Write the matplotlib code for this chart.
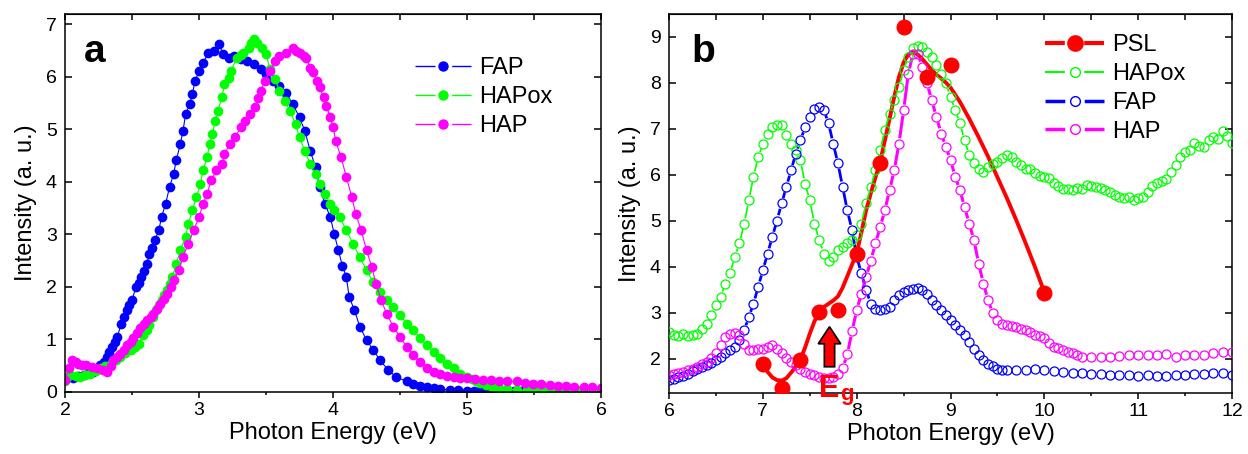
import numpy as np
import matplotlib
matplotlib.use('Agg')
import matplotlib.pyplot as plt
from matplotlib.collections import LineCollection
from matplotlib.lines import Line2D
from matplotlib.patches import FancyArrow
from matplotlib.ticker import MultipleLocator

plt.rcParams['font.family'] = ['Liberation Sans', 'DejaVu Sans']
plt.rcParams['lines.scale_dashes'] = False

# ---- panel a: (energy eV, intensity) ----
fap_a = [(2.00, 0.25), (2.03, 0.28), (2.06, 0.26), (2.10, 0.30), (2.14, 0.32), (2.18, 0.36), (2.21, 0.39),
         (2.24, 0.45), (2.26, 0.51), (2.29, 0.58), (2.31, 0.67), (2.33, 0.76), (2.35, 0.86), (2.37, 0.95),
         (2.39, 1.05), (2.42, 1.30), (2.44, 1.42), (2.46, 1.56), (2.48, 1.65), (2.50, 1.75), (2.53, 2.00),
         (2.55, 2.08), (2.57, 2.19), (2.59, 2.30), (2.61, 2.44), (2.63, 2.63), (2.65, 2.75), (2.67, 2.89),
         (2.70, 3.08), (2.72, 3.33), (2.75, 3.58), (2.78, 3.90), (2.81, 4.15), (2.83, 4.41), (2.86, 4.72),
         (2.88, 4.97), (2.90, 5.29), (2.93, 5.48), (2.95, 5.67), (2.97, 5.92), (3.00, 6.11), (3.03, 6.27),
         (3.07, 6.46), (3.11, 6.49), (3.15, 6.62), (3.18, 6.43), (3.22, 6.37), (3.26, 6.40), (3.31, 6.34),
         (3.36, 6.30), (3.41, 6.24), (3.46, 6.15), (3.50, 6.05), (3.55, 5.92), (3.60, 5.83), (3.65, 5.70),
         (3.70, 5.48), (3.75, 5.23), (3.79, 4.97), (3.83, 4.59), (3.87, 4.28), (3.90, 3.90), (3.94, 3.58),
         (3.98, 3.33), (4.01, 3.00), (4.04, 2.70), (4.07, 2.40), (4.10, 2.19), (4.12, 1.81), (4.16, 1.56),
         (4.20, 1.24), (4.25, 0.99), (4.30, 0.80), (4.35, 0.61), (4.41, 0.42), (4.47, 0.29), (4.55, 0.20),
         (4.60, 0.15), (4.65, 0.11), (4.70, 0.09), (4.75, 0.07), (4.80, 0.05), (4.87, 0.04), (4.93, 0.03),
         (5.00, 0.02), (5.05, 0.02), (5.10, 0.02), (5.15, 0.01), (5.20, 0.01), (5.25, 0.01), (5.30, 0.01),
         (5.35, 0.01), (5.40, 0.01), (5.45, 0.01), (5.50, 0.01), (5.55, 0.01), (5.60, 0.01), (5.65, 0.01),
         (5.70, 0.01), (5.75, 0.01), (5.80, 0.01), (5.85, 0.01), (5.90, 0.01), (5.95, 0.01), (6.00, 0.01)]

hapox_a = [(2.00, 0.20), (2.02, 0.30), (2.04, 0.32), (2.08, 0.30), (2.11, 0.29), (2.15, 0.33), (2.19, 0.35),
           (2.23, 0.40), (2.26, 0.45), (2.30, 0.50), (2.34, 0.54), (2.38, 0.60), (2.41, 0.67), (2.45, 0.74),
           (2.49, 0.80), (2.52, 0.86), (2.55, 0.92), (2.58, 1.08), (2.61, 1.18), (2.63, 1.27), (2.66, 1.42),
           (2.68, 1.56), (2.70, 1.65), (2.72, 1.75), (2.74, 1.85), (2.76, 1.94), (2.78, 2.06), (2.80, 2.19),
           (2.83, 2.44), (2.86, 2.70), (2.90, 2.95), (2.92, 3.20), (2.95, 3.46), (2.98, 3.71), (3.01, 3.96),
           (3.03, 4.22), (3.06, 4.47), (3.08, 4.72), (3.10, 4.91), (3.12, 5.16), (3.14, 5.35), (3.17, 5.61),
           (3.19, 5.86), (3.22, 5.99), (3.24, 6.11), (3.28, 6.37), (3.31, 6.42), (3.33, 6.46), (3.37, 6.56),
           (3.39, 6.65), (3.41, 6.72), (3.43, 6.65), (3.47, 6.56), (3.50, 6.43), (3.53, 6.15), (3.57, 5.96),
           (3.60, 5.73), (3.64, 5.54), (3.68, 5.35), (3.72, 5.10), (3.75, 4.85), (3.79, 4.59), (3.83, 4.34),
           (3.87, 4.15), (3.90, 3.96), (3.94, 3.77), (3.98, 3.58), (4.01, 3.46), (4.05, 3.33), (4.10, 3.08),
           (4.15, 2.82), (4.20, 2.57), (4.25, 2.32), (4.30, 2.09), (4.35, 1.90), (4.40, 1.75), (4.45, 1.62),
           (4.50, 1.46), (4.55, 1.30), (4.60, 1.18), (4.65, 1.02), (4.70, 0.89), (4.75, 0.77), (4.80, 0.64),
           (4.85, 0.54), (4.90, 0.45), (4.95, 0.35), (5.00, 0.29), (5.04, 0.24), (5.07, 0.20), (5.10, 0.17),
           (5.14, 0.13), (5.19, 0.10), (5.24, 0.07), (5.30, 0.05), (5.37, 0.04), (5.45, 0.03), (5.50, 0.03),
           (5.55, 0.03), (5.60, 0.03), (5.65, 0.02), (5.70, 0.02), (5.75, 0.02), (5.80, 0.02), (5.85, 0.02),
           (5.90, 0.02), (5.95, 0.02), (6.00, 0.02)]

hap_a = [(2.00, 0.23), (2.03, 0.45), (2.05, 0.61), (2.08, 0.57), (2.10, 0.54), (2.13, 0.52), (2.16, 0.51),
         (2.20, 0.48), (2.24, 0.45), (2.28, 0.42), (2.31, 0.39), (2.34, 0.50), (2.36, 0.61), (2.39, 0.67),
         (2.41, 0.73), (2.44, 0.80), (2.46, 0.89), (2.49, 0.96), (2.51, 1.02), (2.54, 1.12), (2.56, 1.21),
         (2.59, 1.30), (2.61, 1.37), (2.64, 1.43), (2.66, 1.49), (2.69, 1.58), (2.71, 1.68), (2.74, 1.78),
         (2.76, 1.87), (2.79, 2.00), (2.81, 2.13), (2.85, 2.32), (2.88, 2.57), (2.92, 2.82), (2.96, 3.08),
         (3.00, 3.33), (3.03, 3.58), (3.06, 3.77), (3.09, 4.03), (3.13, 4.22), (3.17, 4.34), (3.19, 4.53),
         (3.23, 4.72), (3.27, 4.85), (3.31, 5.04), (3.34, 5.16), (3.38, 5.29), (3.42, 5.42), (3.44, 5.60),
         (3.46, 5.73), (3.49, 5.92), (3.53, 6.11), (3.57, 6.30), (3.60, 6.40), (3.65, 6.46), (3.70, 6.56),
         (3.72, 6.50), (3.75, 6.46), (3.78, 6.40), (3.80, 6.37), (3.83, 6.18), (3.85, 6.10), (3.88, 5.92),
         (3.90, 5.80), (3.93, 5.61), (3.95, 5.45), (3.98, 5.23), (4.00, 5.05), (4.02, 4.78), (4.06, 4.47),
         (4.10, 4.09), (4.14, 3.71), (4.17, 3.39), (4.21, 3.08), (4.25, 2.70), (4.29, 2.38), (4.32, 2.06),
         (4.36, 1.75), (4.40, 1.49), (4.45, 1.24), (4.50, 1.05), (4.55, 0.86), (4.60, 0.70), (4.65, 0.58),
         (4.70, 0.45), (4.75, 0.39), (4.80, 0.34), (4.85, 0.31), (4.90, 0.29), (4.95, 0.27), (5.00, 0.26),
         (5.06, 0.25), (5.12, 0.23), (5.18, 0.22), (5.24, 0.20), (5.30, 0.20), (5.37, 0.20), (5.43, 0.18),
         (5.49, 0.16), (5.55, 0.15), (5.62, 0.13), (5.68, 0.12), (5.74, 0.11), (5.80, 0.10), (5.87, 0.09),
         (5.93, 0.09), (6.00, 0.08)]

# ---- panel b ----
psl_points = [(7.0, 1.88), (7.2, 1.36), (7.4, 1.98), (7.6, 3.03), (7.8, 3.07), (8.0, 4.29),
              (8.25, 6.25), (8.5, 9.22), (8.75, 8.14), (9.0, 8.38), (10.0, 3.44)]

psl_fit = [(7.00, 1.88), (7.05, 1.72), (7.10, 1.60), (7.15, 1.54), (7.20, 1.53), (7.25, 1.58), (7.30, 1.70),
           (7.35, 1.83), (7.40, 1.99), (7.45, 2.25), (7.50, 2.55), (7.55, 2.82), (7.60, 3.02), (7.65, 3.13),
           (7.70, 3.20), (7.75, 3.27), (7.80, 3.36), (7.85, 3.55), (7.90, 3.80), (7.95, 4.05), (8.00, 4.30),
           (8.05, 4.75), (8.10, 5.23), (8.15, 5.60), (8.20, 5.95), (8.25, 6.28), (8.30, 6.75), (8.35, 7.22),
           (8.40, 7.70), (8.45, 8.13), (8.50, 8.45), (8.55, 8.62), (8.60, 8.67), (8.65, 8.62), (8.70, 8.52),
           (8.75, 8.40), (8.80, 8.28), (8.85, 8.18), (8.90, 8.10), (8.95, 8.01), (9.00, 7.90), (9.10, 7.59),
           (9.20, 7.22), (9.30, 6.82), (9.40, 6.40), (9.50, 5.95), (9.60, 5.50), (9.70, 5.02), (9.80, 4.52),
           (9.90, 4.00), (10.00, 3.45)]

hapox_b = [(6.00, 2.59), (6.05, 2.52), (6.10, 2.50), (6.15, 2.55), (6.20, 2.50), (6.25, 2.52), (6.30, 2.55),
           (6.35, 2.66), (6.40, 2.77), (6.45, 2.95), (6.50, 3.17), (6.55, 3.35), (6.60, 3.64), (6.65, 3.86),
           (6.70, 4.22), (6.75, 4.51), (6.80, 4.94), (6.85, 5.45), (6.90, 5.96), (6.95, 6.39), (7.00, 6.68),
           (7.05, 6.90), (7.10, 7.04), (7.15, 7.08), (7.20, 7.08), (7.25, 6.86), (7.30, 6.68), (7.35, 6.54),
           (7.40, 6.32), (7.45, 5.81), (7.50, 5.45), (7.55, 4.94), (7.60, 4.58), (7.65, 4.29), (7.70, 4.14),
           (7.75, 4.22), (7.80, 4.36), (7.85, 4.43), (7.90, 4.51), (7.95, 4.58), (8.00, 4.70), (8.05, 4.94),
           (8.10, 5.38), (8.15, 5.74), (8.20, 6.10), (8.25, 6.54), (8.30, 6.97), (8.35, 7.33), (8.40, 7.62),
           (8.45, 7.91), (8.50, 8.28), (8.55, 8.57), (8.60, 8.75), (8.65, 8.80), (8.70, 8.78), (8.75, 8.67),
           (8.80, 8.57), (8.85, 8.38), (8.90, 8.20), (8.95, 7.99), (9.00, 7.70), (9.05, 7.41), (9.10, 7.12),
           (9.15, 6.75), (9.20, 6.43), (9.25, 6.25), (9.30, 6.14), (9.35, 6.07), (9.40, 6.17), (9.45, 6.23),
           (9.50, 6.28), (9.55, 6.36), (9.60, 6.43), (9.65, 6.39), (9.70, 6.28), (9.75, 6.21), (9.80, 6.14),
           (9.85, 6.12), (9.90, 6.04), (9.95, 5.98), (10.00, 5.96), (10.05, 5.93), (10.10, 5.82), (10.15, 5.75),
           (10.20, 5.69), (10.25, 5.69), (10.30, 5.67), (10.35, 5.71), (10.40, 5.69), (10.45, 5.78), (10.50, 5.75),
           (10.55, 5.73), (10.60, 5.71), (10.65, 5.67), (10.70, 5.64), (10.75, 5.57), (10.80, 5.53), (10.85, 5.49),
           (10.90, 5.53), (10.95, 5.46), (11.00, 5.49), (11.05, 5.53), (11.10, 5.64), (11.15, 5.75), (11.20, 5.82),
           (11.25, 5.86), (11.30, 5.91), (11.35, 6.07), (11.40, 6.22), (11.45, 6.40), (11.50, 6.50), (11.55, 6.55),
           (11.60, 6.70), (11.65, 6.62), (11.70, 6.60), (11.75, 6.75), (11.80, 6.82), (11.85, 6.78), (11.90, 6.95),
           (11.95, 6.85), (12.00, 6.70)]

fap_b = [(6.00, 1.54), (6.05, 1.57), (6.10, 1.61), (6.15, 1.64), (6.20, 1.68), (6.25, 1.73), (6.30, 1.79),
         (6.35, 1.82), (6.40, 1.86), (6.45, 1.91), (6.50, 1.97), (6.55, 2.04), (6.60, 2.12), (6.65, 2.19),
         (6.70, 2.26), (6.75, 2.41), (6.80, 2.62), (6.85, 2.91), (6.90, 3.20), (6.95, 3.57), (7.00, 3.93),
         (7.05, 4.29), (7.10, 4.65), (7.15, 5.01), (7.20, 5.38), (7.25, 5.74), (7.30, 6.10), (7.35, 6.46),
         (7.40, 6.75), (7.45, 7.04), (7.50, 7.26), (7.55, 7.44), (7.60, 7.48), (7.65, 7.41), (7.70, 7.12),
         (7.75, 6.68), (7.80, 6.25), (7.85, 5.74), (7.90, 5.23), (7.95, 4.80), (8.00, 4.22), (8.05, 3.86),
         (8.10, 3.50), (8.15, 3.20), (8.20, 3.09), (8.25, 3.06), (8.30, 3.09), (8.35, 3.13), (8.40, 3.28),
         (8.45, 3.38), (8.50, 3.46), (8.55, 3.50), (8.60, 3.53), (8.65, 3.55), (8.70, 3.50), (8.75, 3.42),
         (8.80, 3.28), (8.85, 3.17), (8.90, 3.06), (8.95, 2.95), (9.00, 2.84), (9.05, 2.73), (9.10, 2.62),
         (9.15, 2.51), (9.20, 2.37), (9.25, 2.22), (9.30, 2.08), (9.35, 1.97), (9.40, 1.90), (9.45, 1.84),
         (9.50, 1.79), (9.55, 1.77), (9.60, 1.75), (9.70, 1.77), (9.80, 1.77), (9.90, 1.78), (10.00, 1.76),
         (10.10, 1.74), (10.20, 1.72), (10.30, 1.70), (10.40, 1.69), (10.50, 1.67), (10.60, 1.67), (10.70, 1.66),
         (10.80, 1.65), (10.90, 1.65), (11.00, 1.64), (11.10, 1.65), (11.20, 1.64), (11.30, 1.64), (11.40, 1.65),
         (11.50, 1.66), (11.60, 1.67), (11.70, 1.67), (11.80, 1.69), (11.90, 1.70), (12.00, 1.66)]

hap_b = [(6.00, 1.65), (6.05, 1.67), (6.10, 1.70), (6.15, 1.72), (6.20, 1.75), (6.25, 1.79), (6.30, 1.83),
         (6.35, 1.88), (6.40, 1.94), (6.45, 2.01), (6.50, 2.12), (6.55, 2.30), (6.60, 2.48), (6.65, 2.55),
         (6.70, 2.57), (6.75, 2.51), (6.80, 2.33), (6.85, 2.19), (6.90, 2.19), (6.95, 2.22), (7.00, 2.22),
         (7.05, 2.26), (7.10, 2.30), (7.15, 2.22), (7.20, 2.12), (7.25, 2.01), (7.30, 1.94), (7.35, 1.86),
         (7.40, 1.79), (7.45, 1.72), (7.50, 1.68), (7.55, 1.65), (7.60, 1.61), (7.65, 1.59), (7.70, 1.59),
         (7.75, 1.61), (7.80, 1.68), (7.85, 1.80), (7.90, 2.10), (7.95, 2.60), (8.00, 3.06), (8.05, 3.42),
         (8.10, 3.78), (8.15, 4.14), (8.20, 4.51), (8.25, 4.87), (8.30, 5.23), (8.35, 5.67), (8.40, 6.10),
         (8.45, 6.68), (8.50, 7.41), (8.55, 8.20), (8.60, 8.64), (8.65, 8.64), (8.70, 8.35), (8.75, 7.99),
         (8.80, 7.62), (8.85, 7.26), (8.90, 6.90), (8.95, 6.61), (9.00, 6.32), (9.05, 5.96), (9.10, 5.67),
         (9.15, 5.30), (9.20, 4.94), (9.25, 4.58), (9.30, 4.07), (9.35, 3.64), (9.40, 3.28), (9.45, 2.99),
         (9.50, 2.84), (9.55, 2.77), (9.60, 2.73), (9.65, 2.72), (9.70, 2.70), (9.75, 2.66), (9.80, 2.62),
         (9.85, 2.58), (9.90, 2.52), (9.95, 2.49), (10.00, 2.45), (10.05, 2.34), (10.10, 2.27), (10.15, 2.23),
         (10.20, 2.20), (10.25, 2.16), (10.30, 2.12), (10.35, 2.09), (10.40, 2.05), (10.50, 2.04), (10.60, 2.04),
         (10.70, 2.05), (10.80, 2.07), (10.90, 2.09), (11.00, 2.09), (11.10, 2.09), (11.20, 2.09), (11.30, 2.11),
         (11.40, 2.05), (11.50, 2.09), (11.60, 2.09), (11.70, 2.09), (11.80, 2.12), (11.90, 2.16), (12.00, 2.15)]

BLUE = '#0000ff'
GREEN = '#00ff00'
MAGENTA = '#ff00ff'
RED = '#ff0000'


def xy(pairs):
    arr = np.array(pairs)
    return arr[:, 0], arr[:, 1]


def gap_line(ax, x, y, color, lw, gap):
    # Origin style: the connecting line stops short of each symbol
    pts = ax.transData.transform(np.column_stack([x, y]))
    inv = ax.transData.inverted()
    segs = []
    for p0, p1 in zip(pts[:-1], pts[1:]):
        d = p1 - p0
        n = np.hypot(d[0], d[1])
        if n <= 2 * gap + 1:
            continue
        u = d / n
        segs.append(inv.transform(np.array([p0 + u * gap, p1 - u * gap])))
    ax.add_collection(LineCollection(segs, colors=color, linewidths=lw, zorder=2))


def style_axes(ax, xlim, ylim):
    ax.set_xlim(*xlim)
    ax.set_ylim(*ylim)
    for s in ax.spines.values():
        s.set_linewidth(1.1)
    ax.xaxis.set_major_locator(MultipleLocator(1))
    ax.xaxis.set_minor_locator(MultipleLocator(0.5))
    ax.yaxis.set_major_locator(MultipleLocator(1))
    ax.tick_params(axis='x', which='major', direction='out', length=4.5, width=1.1,
                   labelsize=14, pad=3)
    ax.tick_params(axis='x', which='minor', direction='out', length=2.5, width=1.1)
    ax.tick_params(axis='y', which='major', direction='in', length=5, width=1.1,
                   labelsize=14, pad=6, right=True)
    top = ax.secondary_xaxis('top')
    top.xaxis.set_major_locator(MultipleLocator(0.5))
    top.tick_params(axis='x', direction='in', length=4.5, width=1.1, labeltop=False)
    ax.set_xlabel('Photon Energy (eV)', fontsize=17, labelpad=2)
    ax.set_ylabel('Intensity (a. u.)', fontsize=17, labelpad=6)


fig = plt.figure(figsize=(12.48, 4.54), dpi=100)
ax1 = fig.add_axes([0.0521, 0.1366, 0.4295, 0.8326])
ax2 = fig.add_axes([0.5361, 0.1344, 0.4511, 0.8348])

# ---- panel a ----
style_axes(ax1, (2, 6), (0, 7.2))
for pairs, col in [(fap_a, BLUE), (hapox_a, GREEN), (hap_a, MAGENTA)]:
    x, y = xy(pairs)
    ax1.plot(x, y, color=col, lw=0.8, marker='o', ms=7, mec=col, mfc=col, mew=0)

ax1.text(0.035, 0.873, 'a', transform=ax1.transAxes, fontsize=28, fontweight='bold')

seg_a, gap_a = 14.4, 12.0
handles_a = [Line2D([], [], color=c, lw=1, ls=(0, (seg_a, gap_a)), marker='o', ms=7.5, mew=0)
             for c in (BLUE, GREEN, MAGENTA)]
ax1.legend(handles_a, ['FAP', 'HAPox', 'HAP'], loc='upper left', bbox_to_anchor=(0.652, 0.886),
           frameon=False, fontsize=17, handlelength=2.4, handletextpad=0.35,
           labelspacing=0.29, borderpad=0, borderaxespad=0, numpoints=1)

# ---- panel b ----
style_axes(ax2, (6, 12), (1.26, 9.5))

fx, fy = xy(psl_fit)
ax2.plot(fx, fy, color=RED, lw=2.8, zorder=2)

ms_b, gap_b = 6.5, 5.5
for pairs, col, lw in [(hapox_b, GREEN, 1.2), (fap_b, BLUE, 2.0), (hap_b, MAGENTA, 2.2)]:
    x, y = xy(pairs)
    gap_line(ax2, x, y, col, lw, gap_b)
    ax2.plot(x, y, ls='none', marker='o', ms=ms_b, mfc='none', mec=col, mew=0.9, zorder=3)

px, py = xy(psl_points)
ax2.plot(px, py, ls='none', marker='o', ms=10.5, color=RED, zorder=4)

ax2.add_patch(FancyArrow(7.71, 1.83, 0, 0.5, width=0.11, head_width=0.24, head_length=0.37,
                         length_includes_head=False, fc=RED, ec='black', lw=1.2, zorder=5))
ax2.text(7.6, 1.17, 'E', color=RED, fontsize=22, fontweight='bold', va='baseline', zorder=6)
ax2.text(7.82, 1.10, 'g', color=RED, fontsize=16, fontweight='bold', va='baseline', zorder=6)

ax2.text(0.04, 0.873, 'b', transform=ax2.transAxes, fontsize=28, fontweight='bold')

seg_b, gap_b2 = 14.25, 14.0
handles_b = [Line2D([], [], color=RED, lw=3, ls=(0, (seg_b, gap_b2)), marker='o', ms=11),
             Line2D([], [], color=GREEN, lw=1.5, ls=(0, (seg_b, gap_b2)), marker='o', ms=7,
                    mfc='none', mew=1),
             Line2D([], [], color=BLUE, lw=2.5, ls=(0, (seg_b, gap_b2)), marker='o', ms=7,
                    mfc='none', mew=1),
             Line2D([], [], color=MAGENTA, lw=2.5, ls=(0, (seg_b, gap_b2)), marker='o', ms=7,
                    mfc='none', mew=1)]
ax2.legend(handles_b, ['PSL', 'HAPox', 'FAP', 'HAP'], loc='upper left', bbox_to_anchor=(0.668, 0.947),
           frameon=False, fontsize=17, handlelength=2.5, handletextpad=0.35,
           labelspacing=0.29, borderpad=0, borderaxespad=0, numpoints=1)

fig.savefig('out.png', dpi=100)
